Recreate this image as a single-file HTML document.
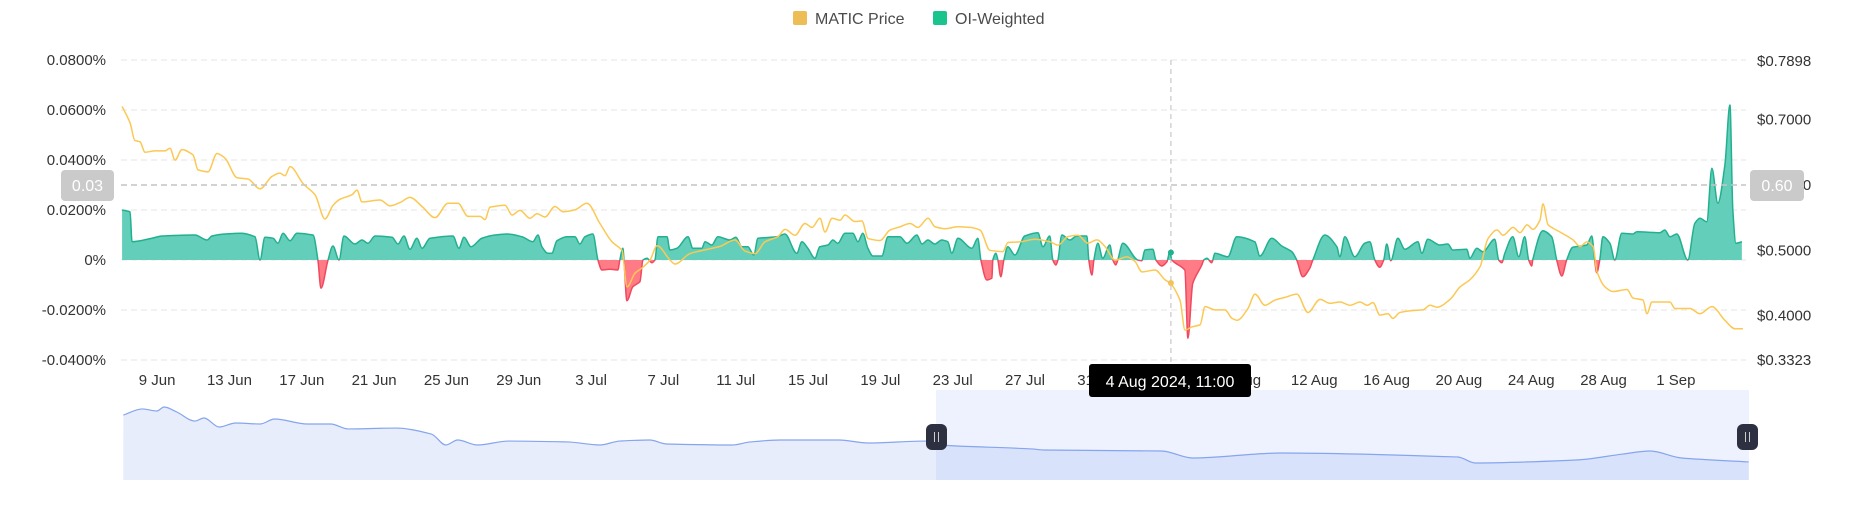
<!DOCTYPE html>
<html><head><meta charset="utf-8"><style>
html,body{margin:0;padding:0;background:#fff;}
body{width:1852px;height:525px;overflow:hidden;font-family:"Liberation Sans",sans-serif;}
svg text{font-family:"Liberation Sans",sans-serif;}
</style></head><body>
<svg id="chart" width="1852" height="525" xmlns="http://www.w3.org/2000/svg">
<g id="legend">
 <g><rect x="793" y="11" width="14" height="14" rx="2" fill="#ecbe55"/><text x="815" y="24" font-size="16" fill="#4b4b4b">MATIC Price</text></g>
 <g><rect x="933" y="11" width="14" height="14" rx="2" fill="#19c48d"/><text x="955" y="24" font-size="16" fill="#4b4b4b">OI-Weighted</text></g>
</g>
<g id="grid"></g>
<g id="leftAxis"></g>
<g id="rightAxis"></g>
<g id="xAxis"></g>
<defs>
 <clipPath id="clipPos"><rect x="0" y="0" width="1852" height="260"/></clipPath>
 <clipPath id="clipNeg"><rect x="0" y="260" width="1852" height="200"/></clipPath>
</defs>
<g id="series"></g>
<g id="nav"></g>
<g id="cross"></g>
</svg>
<script>
// ---- data ----
const xTickLabels = ["9 Jun","13 Jun","17 Jun","21 Jun","25 Jun","29 Jun","3 Jul","7 Jul","11 Jul","15 Jul","19 Jul","23 Jul","27 Jul","31 Jul","4 Aug","8 Aug","12 Aug","16 Aug","20 Aug","24 Aug","28 Aug","1 Sep"];
const xTickDays = [2,6,10,14,18,22,26,30,34,38,42,46,50,54,58,62,66,70,74,78,82,86];
const leftTicks = [0.08,0.06,0.04,0.02,0,-0.02,-0.04];
const leftTickLabels = ["0.0800%","0.0600%","0.0400%","0.0200%","0%","-0.0200%","-0.0400%"];
const rightTicks = [0.7898,0.7,0.6,0.5,0.4,0.3323];
const rightTickLabels = ["$0.7898","$0.7000","$0.6000","$0.5000","$0.4000","$0.3323"];
const priceDays = [0.06,0.50,0.77,1.05,1.33,1.88,2.43,2.71,2.99,3.37,3.98,4.26,4.81,5.31,5.75,6.42,7.02,7.69,8.35,8.79,9.07,9.35,10.07,10.73,11.28,11.73,12.11,12.78,13.05,13.33,14.33,14.88,15.43,15.98,16.65,17.37,18.09,18.64,19.19,19.86,20.13,20.41,21.24,21.63,22.07,22.62,23.01,23.45,24.00,24.45,25.11,25.77,26.49,27.16,27.71,27.99,28.43,28.82,29.26,29.65,30.37,30.64,31.47,32.02,33.13,33.96,34.51,35.07,35.62,36.34,36.73,37.28,37.83,38.22,38.66,38.94,39.33,39.77,40.04,40.60,40.98,41.32,41.98,42.53,43.09,43.64,44.08,44.64,45.02,45.58,46.29,46.96,47.51,48.06,48.78,49.06,49.72,50.55,51.38,51.83,52.38,52.93,53.48,53.98,54.42,54.98,55.64,56.08,56.47,57.19,57.74,58.02,58.57,58.85,59.24,59.68,59.96,60.51,61.06,61.45,61.73,62.33,62.72,63.27,63.83,64.38,65.04,65.65,66.32,66.87,67.42,67.98,68.53,68.92,69.25,69.63,70.08,70.35,70.74,71.46,72.01,72.40,72.79,73.51,74.06,74.61,75.17,75.61,76.11,76.44,77.00,77.38,77.77,78.10,78.48,78.65,78.93,79.59,80.31,80.70,81.08,81.42,81.64,82.08,82.52,83.30,83.63,84.18,84.40,84.68,85.67,85.95,86.78,87.33,87.99,88.71,89.27,89.71];
const priceValues = [0.720,0.695,0.668,0.666,0.650,0.652,0.652,0.656,0.638,0.654,0.646,0.623,0.620,0.648,0.641,0.611,0.609,0.594,0.613,0.618,0.614,0.628,0.602,0.585,0.548,0.569,0.578,0.585,0.592,0.574,0.577,0.568,0.573,0.581,0.567,0.550,0.572,0.572,0.552,0.552,0.547,0.566,0.569,0.554,0.561,0.549,0.556,0.551,0.567,0.559,0.562,0.572,0.541,0.513,0.500,0.444,0.465,0.473,0.485,0.507,0.485,0.479,0.495,0.499,0.506,0.516,0.499,0.495,0.513,0.521,0.532,0.523,0.541,0.535,0.549,0.528,0.549,0.546,0.554,0.544,0.545,0.518,0.515,0.531,0.536,0.541,0.535,0.549,0.536,0.533,0.536,0.535,0.531,0.500,0.498,0.512,0.513,0.517,0.513,0.508,0.521,0.523,0.511,0.516,0.506,0.485,0.490,0.483,0.467,0.470,0.455,0.450,0.424,0.378,0.383,0.386,0.414,0.409,0.409,0.396,0.393,0.411,0.433,0.416,0.424,0.428,0.433,0.405,0.425,0.419,0.421,0.416,0.421,0.416,0.420,0.401,0.403,0.396,0.405,0.408,0.409,0.416,0.413,0.425,0.444,0.455,0.475,0.518,0.531,0.523,0.535,0.527,0.539,0.532,0.546,0.571,0.539,0.528,0.516,0.506,0.513,0.506,0.467,0.444,0.437,0.440,0.427,0.424,0.403,0.421,0.421,0.411,0.411,0.403,0.414,0.393,0.380,0.380];
const oiDays = [0.06,0.50,0.61,1.71,2.27,4.09,4.76,5.03,5.75,6.69,7.41,7.69,7.96,8.41,8.68,8.96,9.35,9.73,10.62,10.89,11.06,11.45,11.72,12.06,12.33,12.94,13.33,13.66,14.05,14.99,15.32,15.65,15.98,16.37,16.65,17.09,18.36,18.69,18.97,19.36,19.96,20.68,21.35,22.18,22.78,23.06,23.28,23.61,23.83,24.11,24.66,25.11,25.38,25.66,26.10,26.38,26.60,27.04,27.48,27.59,27.76,27.82,27.98,28.31,28.70,28.87,29.09,29.36,29.53,29.70,30.20,30.36,30.75,31.36,31.63,32.13,32.30,32.68,33.01,33.68,34.01,34.34,34.67,35.00,35.23,36.28,36.72,37.38,37.66,37.99,38.38,38.65,39.10,39.37,39.65,40.04,40.48,40.76,41.03,41.31,41.59,42.08,42.42,43.08,43.47,44.02,44.30,44.63,45.01,45.40,45.73,45.95,46.29,47.06,47.39,47.56,47.89,48.17,48.22,48.39,48.50,48.66,48.83,49.05,49.44,49.99,50.71,50.99,51.37,51.54,51.71,51.82,52.04,52.48,52.87,53.42,53.53,53.70,53.81,54.03,54.30,54.69,54.86,55.02,55.13,55.41,56.24,56.46,56.63,57.07,57.24,57.57,57.85,58.01,58.12,58.84,59.01,59.28,59.78,59.89,60.06,60.33,60.50,61.22,61.71,62.71,62.99,63.65,64.20,64.76,65.03,65.36,65.75,65.92,66.58,67.25,67.41,67.69,68.24,68.79,69.07,69.35,69.62,69.84,70.01,70.23,70.62,71.01,71.73,71.95,72.28,72.94,73.39,73.66,74.44,74.60,74.99,75.32,75.98,76.20,76.37,76.54,76.98,77.31,77.64,77.86,78.03,78.08,78.64,79.13,79.41,79.69,79.96,80.30,81.07,81.35,81.51,81.62,81.79,81.96,82.35,82.62,83.01,83.62,83.84,85.11,85.39,85.67,86.05,86.66,87.05,87.33,87.71,87.99,88.32,88.71,88.99,89.15,89.32,89.65];
const oiValues = [0.0200,0.0193,0.0073,0.0087,0.0096,0.0100,0.0080,0.0096,0.0104,0.0107,0.0093,0,0.0091,0.0087,0.0067,0.0107,0.0077,0.0107,0.0100,0,-0.0113,0,0.0056,0,0.0096,0.0064,0.0080,0.0067,0.0096,0.0091,0.0064,0.0096,0.0043,0.0087,0.0047,0.0087,0.0096,0.0047,0.0091,0.0053,0.0087,0.0100,0.0104,0.0093,0.0073,0.0100,0.0053,0.0027,0.0027,0.0077,0.0093,0.0093,0.0064,0.0093,0.0104,0,-0.0040,-0.0037,-0.0040,0,0.0047,0,-0.0163,-0.0107,-0.0087,0,0.0007,-0.0011,0,0.0093,0.0093,0.0040,0.0047,0.0093,0.0047,0.0047,0.0073,0.0060,0.0093,0.0080,0.0091,0.0053,0.0053,0.0020,0.0087,0.0093,0.0104,0.0027,0.0073,0.0047,0.0007,0.0053,0.0060,0.0080,0.0067,0.0107,0.0107,0.0073,0.0107,0.0047,0.0016,0.0016,0.0093,0.0093,0.0067,0.0100,0.0064,0.0080,0.0064,0.0080,0.0073,0.0027,0.0087,0.0047,0.0087,0,-0.0080,-0.0073,0,0.0027,0,-0.0067,0,0.0053,0.0020,0.0096,0.0109,0.0053,0.0096,0,-0.0020,0,0.0100,0.0080,0.0096,0.0096,0,-0.0060,0,0.0067,0.0007,0.0060,0,-0.0020,0,0.0067,0,-0.0003,0.0040,0.0043,0,-0.0024,-0.0007,0.0033,0,-0.0040,-0.0313,-0.0093,-0.0020,0,0.0007,-0.0011,0.0027,0.0013,0.0093,0.0073,0.0016,0.0087,0.0056,0.0033,0,-0.0067,-0.0033,0,0.0100,0.0053,0.0013,0.0093,0.0013,0.0067,0.0073,0,-0.0029,0,0.0064,-0.0003,0.0087,0.0043,0.0073,0.0027,0.0083,0.0060,0.0064,0.0040,0.0043,0.0007,0.0047,0.0033,0.0083,0,-0.0011,0.0027,0.0093,0.0013,0.0093,0,-0.0024,0,0.0117,0.0093,0,-0.0064,0,0.0051,0.0060,0.0096,0,-0.0051,0,0.0093,0.0067,0,0.0107,0.0104,0.0113,0.0109,0.0120,0.0093,0.0104,0,0.0147,0.0167,0.0153,0.0367,0.0227,0.0380,0.0620,0.0200,0.0067,0.0073];
const navDays = [-89.7,-87.6,-86.0,-85.2,-83.8,-81.8,-80.8,-79.1,-77.3,-74.6,-73.0,-69.4,-66.8,-64.9,-59.6,-55.7,-54.1,-52.8,-50.6,-47.2,-40.7,-37.1,-34.9,-31.6,-29.7,-22.5,-20.5,-17.2,-10.7,-7.5,-1.1,0.2,10.6,11.9,24.9,28.3,38.0,57.6,59.5,70.6,75.8,78.8,82.3,89.7];
const navValues = [0.795,0.849,0.831,0.866,0.822,0.742,0.769,0.689,0.725,0.716,0.760,0.716,0.716,0.672,0.680,0.627,0.530,0.574,0.530,0.565,0.557,0.530,0.565,0.574,0.539,0.530,0.557,0.574,0.574,0.548,0.565,0.530,0.495,0.486,0.477,0.415,0.459,0.424,0.371,0.397,0.450,0.477,0.415,0.380];
const crossDay = 58.07, crossOi = 0.0030, crossPriceDot = 0.45, crossPrice = 0.03, crossRight = 0.60;

// ---- scales ----
const X0=121, PX_DAY=18.08;
const xS = d => X0 + d*PX_DAY;
const yL = v => 260 - v*2500;
const yR = p => 360 - (p-0.3323)*654;
const NX0=936, NPX=9.06;
const nxS = d => NX0 + d*NPX;
const nyS = p => 445 + (0.53-p)*113;
const NS="http://www.w3.org/2000/svg";
function mk(tag, attrs, parent){const e=document.createElementNS(NS,tag);for(const k in attrs)e.setAttribute(k,attrs[k]);parent.appendChild(e);return e;}

function monoPath(xs, ys){
  const n=xs.length; const d=[],m=[];
  for(let i=0;i<n-1;i++){d.push((ys[i+1]-ys[i])/(xs[i+1]-xs[i]));}
  m[0]=d[0]; m[n-1]=d[n-2];
  for(let i=1;i<n-1;i++){ if(d[i-1]*d[i]<=0) m[i]=0; else { m[i]=3*(d[i-1]+d[i])/( (2*d[i]+d[i-1])/d[i-1] + (d[i]+2*d[i-1])/d[i] ); } }
  let s="M"+xs[0].toFixed(2)+","+ys[0].toFixed(2);
  for(let i=0;i<n-1;i++){const h=(xs[i+1]-xs[i])/3;
    s+="C"+(xs[i]+h).toFixed(2)+","+(ys[i]+m[i]*h).toFixed(2)+" "+(xs[i+1]-h).toFixed(2)+","+(ys[i+1]-m[i+1]*h).toFixed(2)+" "+xs[i+1].toFixed(2)+","+ys[i+1].toFixed(2);}
  return s;
}

// grid & axes
const grid=document.getElementById('grid');
leftTicks.forEach((v,i)=>{
  const l=mk('line',{x1:121,x2:1746,y1:yL(v),y2:yL(v),stroke:'#e9e9e9','stroke-width':1.2,'stroke-dasharray':'6,4'},grid);
  
  
});
const la=document.getElementById('leftAxis');
leftTicks.forEach((v,i)=>{
  const t=mk('text',{x:106,y:yL(v)+5,'text-anchor':'end','font-size':15,fill:'#333'},la);
  t.textContent=leftTickLabels[i];
  
  
});
const ra=document.getElementById('rightAxis');
rightTicks.forEach((v,i)=>{
  const t=mk('text',{x:1757,y:yR(v)+5,'font-size':15,fill:'#333'},ra);
  t.textContent=rightTickLabels[i];
  
  
});
const xa=document.getElementById('xAxis');
xTickDays.forEach((d,i)=>{
  const t=mk('text',{x:xS(d),y:385,'text-anchor':'middle','font-size':15,fill:'#333'},xa);
  t.textContent=xTickLabels[i];
  
  
});

// OI area
const ser=document.getElementById('series');
const oxs=oiDays.map(xS), oys=oiValues.map(yL);
const line=monoPath(oxs,oys);
const area=line+"L"+oxs[oxs.length-1]+",260L"+oxs[0]+",260Z";
const gp=mk('g',{'clip-path':'url(#clipPos)'},ser);


mk('path',{d:area,fill:'#63cfba'},gp);
mk('path',{d:line,fill:'none',stroke:'#22b08f','stroke-width':1.5},gp);
const gn=mk('g',{'clip-path':'url(#clipNeg)'},ser);


mk('path',{d:area,fill:'#ff7b86'},gn);
mk('path',{d:line,fill:'none',stroke:'#f0485e','stroke-width':1.5},gn);
// price line
const pl=mk('path',{d:monoPath(priceDays.map(xS),priceValues.map(yR)),fill:'none',stroke:'#fcc853','stroke-width':1.5},ser);



// navigator
const nav=document.getElementById('nav');
const nxs=navDays.map(nxS), nys=navValues.map(nyS);
const nline=monoPath(nxs,nys);
const sel=mk('rect',{x:nxS(0),y:390,width:1749-nxS(0),height:90,fill:'#eef2fe'},nav);


const na=mk('path',{d:nline+"L"+nxs[nxs.length-1]+",480L"+nxs[0]+",480Z",fill:'#e7edfb'},nav);


const nc=mk('clipPath',{id:'navClip'},nav); mk('rect',{x:nxS(0),y:380,width:900,height:110},nc);
const nsel=mk('path',{d:nline+"L"+nxs[nxs.length-1]+",480L"+nxs[0]+",480Z",fill:'#d8e2fb','clip-path':'url(#navClip)'},nav);


const nl=mk('path',{d:nline,fill:'none',stroke:'#86a5ee','stroke-width':1.2},nav);


[nxS(0)-10, 1737].forEach(hx=>{
  const g=mk('g',{},nav);
  
  
  mk('rect',{x:hx,y:424,width:21,height:26,rx:6,fill:'#2c3040'},g);
  mk('line',{x1:hx+8.5,x2:hx+8.5,y1:432,y2:442,stroke:'#ccc','stroke-width':1},g);
  mk('line',{x1:hx+12.5,x2:hx+12.5,y1:432,y2:442,stroke:'#ccc','stroke-width':1},g);
});

// crosshair
const cr=document.getElementById('cross');
const cx=xS(crossDay);
mk('line',{x1:cx,x2:cx,y1:60,y2:362,stroke:'#bdbdbd','stroke-width':1,'stroke-dasharray':'5,4'},cr);
mk('line',{x1:121,x2:1746,y1:yL(crossPrice),y2:yL(crossPrice),stroke:'#c4c4c4','stroke-width':1.5,'stroke-dasharray':'6,4'},cr);
mk('circle',{cx:cx,cy:yL(crossOi),r:3,fill:'#22b08f'},cr);
mk('circle',{cx:cx,cy:yR(crossPriceDot),r:3,fill:'#f3c25a'},cr);
const lb=mk('g',{},cr);


mk('rect',{x:61,y:yL(crossPrice)-15,width:53,height:31,rx:4,fill:'#cacaca'},lb);
mk('text',{x:87.5,y:yL(crossPrice)+6,'text-anchor':'middle','font-size':16,fill:'#fff'},lb).textContent=crossPrice.toFixed(2);
const rb=mk('g',{},cr);


mk('rect',{x:1750,y:yL(crossPrice)-15,width:54,height:31,rx:4,fill:'#cacaca'},rb);
mk('text',{x:1777,y:yL(crossPrice)+6,'text-anchor':'middle','font-size':16,fill:'#fff'},rb).textContent=crossRight.toFixed(2);
const tt=mk('g',{},cr);


mk('rect',{x:1089,y:364,width:162,height:33,rx:3,fill:'#000'},tt);
mk('text',{x:1170,y:387,'text-anchor':'middle','font-size':16,fill:'#fff'},tt).textContent="4 Aug 2024, 11:00";
</script>
</body></html>
